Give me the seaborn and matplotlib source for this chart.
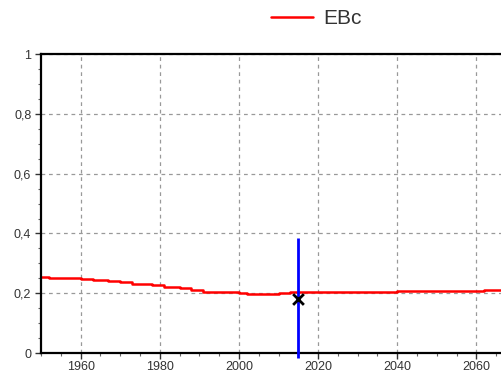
import pandas as pd
import matplotlib.pyplot as plt
from matplotlib.ticker import MultipleLocator, FuncFormatter
import seaborn as sns

# Datos (serie escalonada EBc)
years = [1950, 1952, 1960, 1963, 1967, 1970, 1973, 1978, 1981, 1985, 1988,
         1991, 2000, 2002, 2010, 2013, 2035, 2040, 2062, 2069]
ebc = [0.254, 0.250, 0.248, 0.245, 0.241, 0.236, 0.231, 0.226, 0.221, 0.216, 0.211,
       0.204, 0.200, 0.198, 0.200, 0.203, 0.205, 0.206, 0.210, 0.210]

# Observación y barra vertical
obs_year = [2015]
obs_value = [0.18]
bar_low, bar_high = -0.017, 0.385

df = pd.DataFrame({'year': years, 'EBc': ebc})

sns.set_style("white", {'xtick.bottom': True, 'ytick.left': True})
plt.rcParams['font.family'] = ['Liberation Sans', 'DejaVu Sans']

fig = plt.figure(figsize=(5.01, 3.78), dpi=100)
ax = fig.add_axes([0.082, 0.066, 0.94, 0.791])

sns.lineplot(data=df, x='year', y='EBc', color='red', linewidth=1.8,
             drawstyle='steps-post', label='EBc', ax=ax)
ax.vlines(obs_year, bar_low, bar_high, color='blue', linewidth=2, clip_on=False, zorder=4)
sns.scatterplot(x=obs_year, y=obs_value, marker='x', s=60, color='black',
                linewidth=2, ax=ax, zorder=5)

ax.set_xlim(1950, 2069)
ax.set_ylim(0, 1)
ax.xaxis.set_major_locator(MultipleLocator(20))
ax.xaxis.set_minor_locator(MultipleLocator(5))
ax.yaxis.set_major_locator(MultipleLocator(0.2))
ax.yaxis.set_minor_locator(MultipleLocator(0.05))
ax.yaxis.set_major_formatter(FuncFormatter(lambda v, p: ('%g' % round(v, 2)).replace('.', ',')))
ax.xaxis.set_major_formatter(FuncFormatter(lambda v, p: '' if v <= 1950 else '%d' % v))

ax.grid(True, which='major', linestyle=(0, (3, 3)), color='#999999', linewidth=0.9)
ax.tick_params(axis='both', which='major', length=4, width=1, labelsize=9,
               labelcolor='#333333', direction='out', color='#333333')
ax.tick_params(axis='both', which='minor', length=2.5, width=0.8, direction='out', color='#666666')
ax.tick_params(axis='y', pad=3)
ax.tick_params(axis='x', pad=2)

for side in ['left', 'bottom', 'top']:
    ax.spines[side].set_color('black')
    ax.spines[side].set_linewidth(1.6)
ax.spines['right'].set_visible(False)

ax.set_xlabel('')
ax.set_ylabel('')
ax.legend(loc='lower center', bbox_to_anchor=(0.585, 1.025), frameon=False,
          fontsize=15, handlelength=2.0, handletextpad=0.5, labelcolor='#333333')

fig.savefig('out.png', dpi=100)
